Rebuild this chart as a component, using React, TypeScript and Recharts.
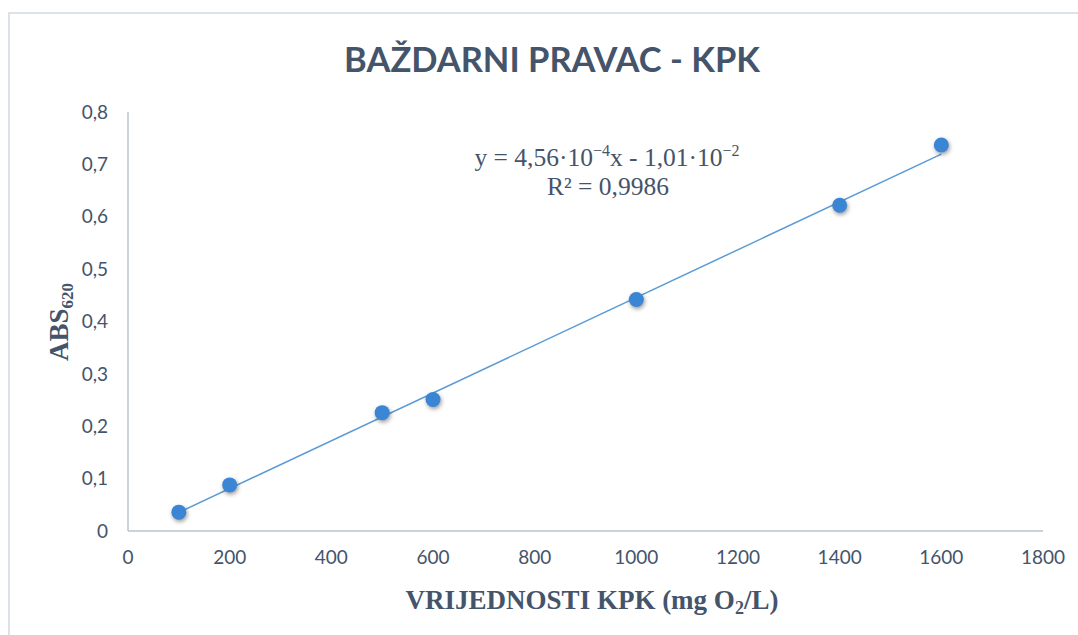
import React from 'react';
import { ScatterChart, Scatter, XAxis, YAxis, ReferenceLine } from 'recharts';

const concentrations = [100, 200, 500, 600, 1000, 1400, 1600];
const absorbances = [0.036, 0.088, 0.226, 0.251, 0.442, 0.622, 0.737];
const xTicks = [0, 200, 400, 600, 800, 1000, 1200, 1400, 1600, 1800];
const yTicks = [0, 0.1, 0.2, 0.3, 0.4, 0.5, 0.6, 0.7, 0.8];
const slope = 4.56e-4;
const intercept = -1.01e-2;
const trendRange = [100, 1600];

const data = concentrations.map((x, i) => ({ x, y: absorbances[i] }));
const trendSegment = trendRange.map((x) => ({ x, y: slope * x + intercept }));

const TEXT = '#44546A';
const AXIS = '#B9C3CF';

const Dot = (props: any) => {
  const { cx, cy } = props;
  if (cx == null || cy == null) return null;
  return (
    <circle
      cx={cx}
      cy={cy}
      r={7.5}
      fill="#3B86D4"
      style={{ filter: 'drop-shadow(1px 2px 2px rgba(0,0,0,0.4))' }}
    />
  );
};

export default function App() {
  return (
    <div style={{ position: 'absolute', left: 0, top: 0, width: 1078, height: 635, overflow: 'hidden', background: '#fff' }}>
      <div
        style={{
          position: 'absolute',
          left: 8,
          top: 12,
          width: 1200,
          height: 800,
          borderLeft: '2px solid #DDE2E8',
          borderTop: '2px solid #DDE2E8',
        }}
      />
      <div style={{ position: 'absolute', left: 0, top: 0 }}>
        <ScatterChart width={1078} height={635} margin={{ top: 112, right: 35, bottom: 0, left: 0 }}>
          <XAxis
            type="number"
            dataKey="x"
            domain={[0, 1800]}
            ticks={xTicks}
            height={104}
            tickLine={false}
            tickMargin={14}
            axisLine={{ stroke: AXIS, strokeWidth: 1.5 }}
            tick={{ fill: TEXT, fontSize: 19, fontFamily: 'Lato' }}
            interval={0}
          />
          <YAxis
            type="number"
            dataKey="y"
            domain={[0, 0.8]}
            ticks={yTicks}
            width={128}
            tickLine={false}
            tickMargin={14}
            axisLine={{ stroke: AXIS, strokeWidth: 1.5 }}
            tick={{ fill: TEXT, fontSize: 19, fontFamily: 'Lato' }}
            tickFormatter={(v: number) => String(Math.round(v * 10) / 10).replace('.', ',')}
            interval={0}
          />
          <ReferenceLine segment={trendSegment} stroke="#5B9BD5" strokeWidth={1.5} ifOverflow="extendDomain" />
          <Scatter data={data} shape={Dot} isAnimationActive={false} />
        </ScatterChart>
      </div>
      <svg width={1078} height={635} style={{ position: 'absolute', left: 0, top: 0, pointerEvents: 'none' }}>
        <text x={552} y={72} textAnchor="middle" fill={TEXT} fontFamily="Lato" fontWeight="bold" fontSize={34.5}>
          BAŽDARNI PRAVAC - KPK
        </text>
        <text x={592} y={609} textAnchor="middle" fill={TEXT} fontFamily="Liberation Serif" fontWeight="bold" fontSize={27}>
          VRIJEDNOSTI KPK (mg O<tspan fontSize={18} dy={5}>2</tspan>
          <tspan dy={-5}>/L)</tspan>
        </text>
        <text
          transform="translate(68, 322) rotate(-90)"
          x={0}
          y={0}
          textAnchor="middle"
          fill={TEXT}
          fontFamily="Liberation Serif"
          fontWeight="bold"
          fontSize={27}
        >
          ABS<tspan fontSize={17} dy={5}>620</tspan>
        </text>
        <text x={607} y={166} textAnchor="middle" fill={TEXT} fontFamily="Liberation Serif" fontSize={25.5}>
          y = 4,56·10<tspan fontSize={16} dy={-10}>−4</tspan>
          <tspan dy={10}>x - 1,01·10</tspan>
          <tspan fontSize={16} dy={-10}>−2</tspan>
        </text>
        <text x={608} y={195} textAnchor="middle" fill={TEXT} fontFamily="Liberation Serif" fontSize={25.5}>
          R² = 0,9986
        </text>
      </svg>
    </div>
  );
}
